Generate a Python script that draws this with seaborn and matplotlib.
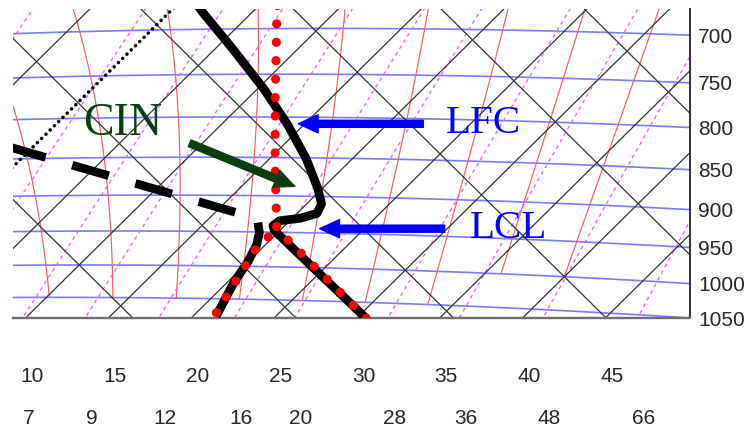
import numpy as np
import matplotlib
matplotlib.use('Agg')
import matplotlib.pyplot as plt
import seaborn as sns

# grid levels of the tephigram
isobars = [700, 750, 800, 850, 900, 950, 1000, 1050]
isotherms = [-15, -10, -5, 0, 5, 10, 15, 20, 25, 30, 35, 40, 45, 50, 55]
dry_adiabats = [0, 10, 20, 30, 40, 50, 60, 70]            # theta, degC
sat_adiabats = [4, 8, 12, 16, 20, 24, 28, 32, 36, 40]     # theta_w, degC
sat_adiabat_base = [1050, 1050, 1050, 1050, 1050, 1050, 1050, 1050, 1000, 1000]
mixing_ratios = [2, 3, 5, 7, 9, 12, 16, 20, 28, 36, 48, 66]  # g/kg

temp_labels = [10, 15, 20, 25, 30, 35, 40, 45]
mr_labels = [7, 9, 12, 16, 20, 28, 36, 48, 66]

# sounding (hPa, degC)
env_p = [670, 682, 722, 767, 809, 851, 889, 910, 923, 930, 934, 941, 948, 1075]
env_t = [0.8, 2.0, 6.1, 10.4, 14.0, 17.2, 19.7, 20.9, 21.2, 20.5, 19.4, 19.3, 19.7, 30.6]
dew_p = [1078, 1024, 994, 969, 951, 937]
dew_t = [21.4, 20.4, 20.0, 19.5, 18.9, 18.2]
dew_upper_p = [937, 923, 836, 828]
dew_upper_t = [18.2, 16.2, -1.1, -2.7]
parcel_p = [1075, 945, 855, 771, 683, 670]
parcel_t = [30.6, 19.7, 15.5, 11.3, 6.5, 5.8]
parcel_td_p = [1072, 976, 945]
parcel_td_t = [21.2, 19.7, 19.7]

# arrow targets (degC, hPa)
lfc_arrow = (14.6, 808)
lcl_arrow = (22.3, 944)
cin_arrow = (18.2, 887)

KAPPA = 0.2857
A, B = 8.283, 2350.0
CX, CY = -13271.7, -13132.2


def teph(t, p):
    t = np.asarray(t, float)
    p = np.asarray(p, float)
    lnth = np.log((t + 273.15) * (1000.0 / p) ** KAPPA)
    return A * t + B * lnth + CX, 0.99 * (-A * t + B * lnth + CY)


def sat_rate(tk, p):
    tc = tk - 273.15
    es = 6.112 * np.exp(17.67 * tc / (tc + 243.5))
    ws = 0.622 * es / (p - es)
    lv, rd, cp = 2.501e6, 287.04, 1005.7
    return ((rd * tk + lv * ws) / p) / (cp + lv * lv * ws * 0.622 / (rd * tk * tk))


def moist_path(tw, p_stop, step):
    p, tk = 1000.0, tw + 273.15
    ps, ts = [p], [tk]
    for _ in range(int(round(abs(p_stop - 1000) / abs(step)))):
        k1 = sat_rate(tk, p)
        k2 = sat_rate(tk + 0.5 * step * k1, p + 0.5 * step)
        k3 = sat_rate(tk + 0.5 * step * k2, p + 0.5 * step)
        k4 = sat_rate(tk + step * k3, p + step)
        tk += step * (k1 + 2 * k2 + 2 * k3 + k4) / 6
        p += step
        ps.append(p)
        ts.append(tk)
    return np.array(ps), np.array(ts) - 273.15


sns.set_style('white')
plt.rcParams['font.family'] = ['Liberation Sans', 'DejaVu Sans']

fig = plt.figure(figsize=(7.51, 4.38), dpi=100)
ax = fig.add_axes([13 / 751, 120 / 438, 677 / 751, 309 / 438])
ax.set_xlim(13, 690)
ax.set_ylim(0, 309)

p_grid = np.linspace(1100, 600, 300)
t_grid = np.linspace(-40, 70, 300)

for t in isotherms:
    x, y = teph(np.full_like(p_grid, t), p_grid)
    if t == 0:
        ax.plot(x, y, color='black', lw=2.6, linestyle=(0, (0.01, 1.65)),
                dash_capstyle='round', zorder=3)
    else:
        ax.plot(x, y, color='#333333', lw=0.9, zorder=2)

for th in dry_adiabats:
    tt = (th + 273.15) * (p_grid / 1000.0) ** KAPPA - 273.15
    x, y = teph(tt, p_grid)
    ax.plot(x, y, color='#333333', lw=0.9, zorder=2)

iso_y = []
for p in isobars:
    x, y = teph(t_grid, np.full_like(t_grid, p))
    ax.plot(x, y, color='#5a5aff', lw=1.2, alpha=0.8, zorder=1)
    iso_y.append(np.interp(690, x, y))

for tw, pb in zip(sat_adiabats, sat_adiabat_base):
    up_p, up_t = moist_path(tw, 620, -2.0)
    if pb > 1000:
        dn_p, dn_t = moist_path(tw, pb, 2.0)
        pp = np.concatenate([dn_p[::-1], up_p[1:]])
        tt = np.concatenate([dn_t[::-1], up_t[1:]])
    else:
        pp, tt = up_p, up_t
    x, y = teph(tt, pp)
    ax.plot(x, y, color='#ff5a5a', lw=0.85, zorder=1)

mr_bottom = {}
for w in mixing_ratios:
    e = w * p_grid / (622.0 + 0.5 * w)
    le = np.log(e / 6.112)
    tt = 243.5 * le / (17.67 - le)
    x, y = teph(tt, p_grid)
    ax.plot(x, y, color='#ff50ff', lw=0.9, linestyle=(0, (3, 3)), zorder=1)
    mr_bottom[w] = np.interp(0, y, x)

# sounding
x, y = teph(env_t, env_p)
sns.lineplot(x=x, y=y, sort=False, estimator=None, ax=ax, color='black',
             lw=6.3, solid_capstyle='butt', solid_joinstyle='round', zorder=4)
x, y = teph(dew_t, dew_p)
sns.lineplot(x=x, y=y, sort=False, estimator=None, ax=ax, color='black',
             lw=6.3, solid_capstyle='butt', zorder=4)
x, y = teph(dew_upper_t, dew_upper_p)
ax.plot(x, y, color='black', lw=6.2, linestyle=(4.74, (4.42, 3.22)),
        dash_capstyle='butt', zorder=4)
for tt, pp in [(parcel_t, parcel_p), (parcel_td_t, parcel_td_p)]:
    x, y = teph(tt, pp)
    ax.plot(x, y, color='red', lw=6.6, linestyle=(0, (0.01, 2.0)),
            dash_capstyle='round', zorder=5)

# annotations
blue = '#0000ff'
green = '#0b3d0e'
arrow = 'simple,head_length=0.95,head_width=0.87,tail_width=0.34'
for tgt, label, dx in [(lfc_arrow, 'LFC', 148), (lcl_arrow, 'LCL', 150)]:
    xy = teph(*tgt)
    ax.annotate('', xy=xy, xytext=(125, 0), textcoords='offset pixels',
                arrowprops=dict(arrowstyle=arrow, color=blue, shrinkA=0,
                                shrinkB=0, mutation_scale=15), zorder=6)
    ax.annotate(label, xy=xy, xytext=(dx, 0), textcoords='offset pixels',
                ha='left', va='center', color=blue, fontsize=29.5,
                family='Liberation Serif', zorder=6)
xy = teph(*cin_arrow)
ax.annotate('', xy=xy, xytext=(-105, 43), textcoords='offset pixels',
            arrowprops=dict(arrowstyle=arrow, color=green, shrinkA=0,
                            shrinkB=0, mutation_scale=15), zorder=6)
ax.annotate('CIN', xy=xy, xytext=(-172, 63), textcoords='offset pixels',
            ha='center', va='center', color=green, fontsize=33,
            family='Liberation Serif', zorder=6)

# bottom labels
for t in temp_labels:
    x, y = teph(np.full_like(p_grid, t), p_grid)
    xb = np.interp(0, y, x)
    ax.annotate(str(t), xy=(xb, 0), xytext=(6, -59), textcoords='offset pixels',
                ha='center', va='center', fontsize=15, annotation_clip=False)
for w in mr_labels:
    ax.annotate(str(w), xy=(mr_bottom[w], 0), xytext=(6, -101),
                textcoords='offset pixels', ha='center', va='center',
                fontsize=15, annotation_clip=False)

ax.yaxis.tick_right()
ax.set_yticks(iso_y)
ax.set_yticklabels([str(p) for p in isobars], fontsize=15)
ax.tick_params(axis='y', length=0, pad=6)
ax.set_xticks([])
ax.spines['left'].set_visible(False)
ax.spines['top'].set_visible(False)
ax.spines['bottom'].set_color('#6e6e6e')
ax.spines['bottom'].set_linewidth(1.7)
ax.spines['right'].set_color('#303030')
ax.spines['right'].set_linewidth(1.4)

fig.savefig('out.png', dpi=100)
